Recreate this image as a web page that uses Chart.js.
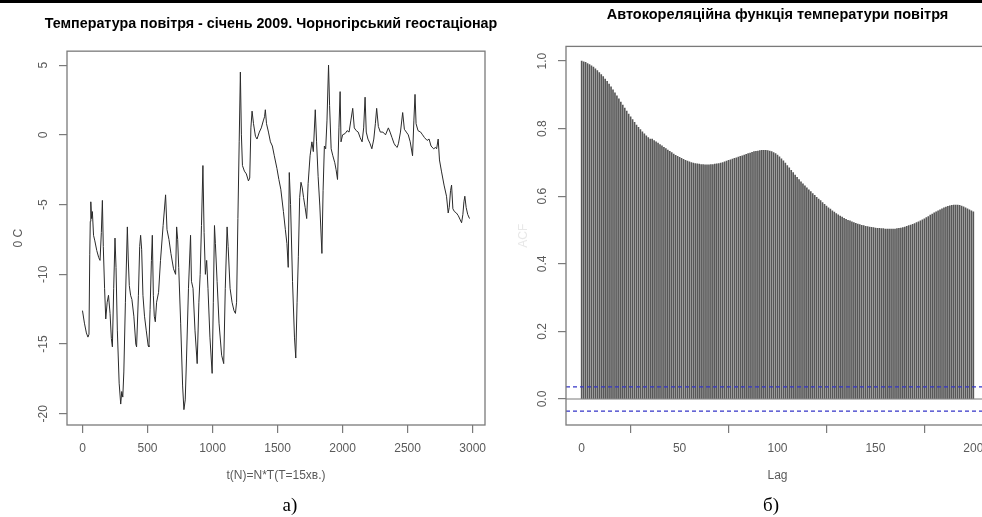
<!DOCTYPE html>
<html>
<head>
<meta charset="utf-8">
<script src="https://cdn.jsdelivr.net/npm/chart.js@4.4.0/dist/chart.umd.min.js"></script>
<style>
    html, body { margin: 0; padding: 0; background: #fff; overflow: hidden; }
    #page { position: relative; width: 982px; height: 517px; overflow: hidden; background: #fff; }
    #top-rule { position: absolute; left: 0; top: 0; width: 982px; height: 3px; background: #000; }
    #temp-chart { position: absolute; left: 0; top: 0; }
    #acf-chart { position: absolute; left: 500px; top: 0; }
    .caption {
        position: absolute; top: 494px; width: 40px; text-align: center;
        font-family: 'Liberation Serif', 'Times New Roman', serif; font-size: 19px; line-height: 22px; color: #000;
    }
</style>
</head>
<body>
<div id="page">
    <div id="top-rule"></div>
    <canvas id="acf-chart" width="500" height="517"></canvas>
    <canvas id="temp-chart" width="542" height="517"></canvas>
    <div class="caption" style="left: 270px;">а)</div>
    <div class="caption" style="left: 751px;">б)</div>
</div>
<script>
// Air temperature, January 2009 (N = sample number, T = 15 min)
const tempN = [
    0, 15, 30, 42, 50, 56, 60, 64, 70, 76, 85, 95, 110, 125, 135, 145, 153, 160, 170, 179,
    190, 200, 212, 222, 230, 240, 250, 258, 268, 282, 294, 302, 310, 318, 330, 345, 352, 360, 370, 380,
    395, 410, 416, 430, 440, 447, 455, 465, 477, 490, 505, 511, 520, 530, 537, 545, 552, 560, 570, 585,
    600, 620, 639, 650, 665, 680, 700, 716, 724, 732, 740, 755, 770, 780, 790, 800, 815, 831, 838, 850,
    865, 882, 895, 905, 915, 926, 935, 945, 955, 965, 980, 997, 1006, 1015, 1022, 1035, 1050, 1070, 1086, 1098,
    1112, 1120, 1135, 1150, 1165, 1176, 1185, 1195, 1205, 1214, 1222, 1230, 1245, 1260, 1276, 1286, 1295, 1304, 1315, 1330,
    1342, 1360, 1375, 1390, 1400, 1406, 1415, 1430, 1445, 1460, 1475, 1495, 1510, 1525, 1545, 1560, 1572, 1582, 1590, 1600,
    1615, 1630, 1640, 1650, 1660, 1670, 1680, 1690, 1700, 1712, 1724, 1735, 1750, 1764, 1775, 1790, 1800, 1812, 1825, 1841,
    1850, 1860, 1870, 1880, 1892, 1900, 1912, 1925, 1940, 1950, 1961, 1972, 1981, 1988, 2000, 2020, 2035, 2050, 2063, 2078,
    2090, 2105, 2120, 2135, 2150, 2162, 2173, 2182, 2195, 2210, 2225, 2240, 2252, 2262, 2275, 2290, 2310, 2330, 2352, 2365,
    2380, 2395, 2408, 2420, 2430, 2445, 2462, 2475, 2490, 2505, 2520, 2538, 2548, 2557, 2565, 2580, 2600, 2615, 2630, 2650,
    2665, 2680, 2700, 2715, 2723, 2735, 2745, 2760, 2780, 2799, 2812, 2820, 2830, 2838, 2848, 2860, 2875, 2890, 2905, 2915,
    2925, 2933, 2940, 2950, 2962, 2976
];
const tempC = [
    -12.6, -13.5, -14.2, -14.5, -14.3, -8.6, -6.2, -4.8, -6.0, -5.5, -7.2, -7.6, -8.3, -8.8, -9.0, -7.0, -4.7, -8.0, -11.0, -13.2,
    -12.0, -11.5, -12.8, -14.6, -15.2, -11.0, -7.4, -9.5, -14.0, -17.8, -19.3, -18.4, -18.8, -17.0, -12.0, -6.6, -8.9, -10.8, -11.5, -11.8,
    -13.0, -15.0, -15.2, -11.5, -8.0, -7.2, -8.2, -11.5, -13.0, -14.0, -15.1, -15.2, -12.5, -9.0, -7.2, -11.5, -13.0, -13.4, -12.0, -11.3,
    -9.0, -6.5, -4.3, -6.8, -7.5, -8.5, -9.6, -10.0, -6.6, -7.5, -9.5, -13.5, -18.0, -19.7, -19.0, -16.0, -11.0, -7.2, -10.5, -11.0,
    -14.0, -16.4, -12.0, -10.0, -6.5, -2.2, -7.0, -10.0, -9.0, -11.0, -14.5, -17.1, -12.0, -6.5, -7.8, -10.5, -13.5, -15.8, -16.4, -11.0,
    -6.6, -8.0, -11.0, -12.0, -12.6, -12.8, -12.0, -6.0, -0.5, 4.5, 0.0, -2.2, -2.6, -2.8, -3.3, -3.1, 0.5, 1.7, 0.8, -0.1,
    -0.3, 0.2, 0.5, 1.0, 1.3, 1.8, 0.8, 0.2, -0.5, -0.8, -1.5, -2.4, -3.2, -3.9, -5.5, -6.8, -7.8, -9.5, -2.7, -5.0,
    -10.5, -14.5, -16.0, -12.0, -8.7, -4.5, -3.4, -3.8, -4.5, -5.2, -6.0, -3.5, -1.5, -0.5, -1.2, 1.8, -0.5, -3.0, -5.1, -8.5,
    -4.0, -0.8, -1.0, 1.0, 5.0, 2.1, -1.0, -1.5, -2.0, -2.5, -3.2, 0.5, 3.1, -0.5, 0.0, 0.1, 0.3, 0.2, 1.0, 1.9,
    0.5, 0.3, 0.2, -0.2, -0.5, 0.5, 2.7, 0.2, -0.3, -0.6, -1.0, -0.3, 0.8, 1.9, 0.6, 0.2, 0.2, 0.0, 0.5, 0.2,
    -0.2, -0.6, -0.8, -0.9, -0.6, 0.2, 1.6, 0.4, 0.2, 0.0, -0.5, -1.5, 1.0, 2.9, 0.8, 0.3, 0.2, 0.0, -0.2, -0.4,
    -0.3, -0.8, -1.0, -0.9, -1.0, -0.3, -1.8, -2.6, -3.6, -4.4, -5.6, -5.2, -4.0, -3.6, -5.3, -5.5, -5.6, -5.8, -6.1, -6.3,
    -5.7, -4.8, -4.4, -5.2, -5.7, -6.0
];
const tempXTicks = [0, 500, 1000, 1500, 2000, 2500, 3000];
const tempYTicks = [-20, -15, -10, -5, 0, 5];

// Autocorrelation of air temperature, lag 0..200
const acfValues = [
    1.000, 0.998, 0.996, 0.993, 0.990, 0.986, 0.982, 0.977, 0.972, 0.966,
    0.960, 0.954, 0.947, 0.940, 0.932, 0.924, 0.915, 0.906, 0.897, 0.888,
    0.879, 0.870, 0.861, 0.852, 0.843, 0.835, 0.827, 0.819, 0.811, 0.804,
    0.797, 0.791, 0.785, 0.779, 0.774, 0.769, 0.769, 0.765, 0.761, 0.757,
    0.753, 0.749, 0.745, 0.741, 0.737, 0.733, 0.729, 0.725, 0.721, 0.718,
    0.715, 0.712, 0.709, 0.706, 0.704, 0.702, 0.700, 0.698, 0.697, 0.696,
    0.695, 0.694, 0.694, 0.693, 0.693, 0.693, 0.694, 0.694, 0.695, 0.696,
    0.697, 0.698, 0.700, 0.702, 0.704, 0.706, 0.708, 0.710, 0.712, 0.714,
    0.716, 0.718, 0.720, 0.722, 0.724, 0.726, 0.728, 0.730, 0.732, 0.733,
    0.734, 0.735, 0.736, 0.736, 0.736, 0.735, 0.734, 0.732, 0.729, 0.726,
    0.722, 0.717, 0.711, 0.705, 0.698, 0.691, 0.684, 0.677, 0.670, 0.663,
    0.656, 0.649, 0.643, 0.637, 0.631, 0.625, 0.619, 0.614, 0.608, 0.603,
    0.597, 0.592, 0.587, 0.581, 0.576, 0.571, 0.566, 0.562, 0.557, 0.553,
    0.549, 0.545, 0.541, 0.538, 0.535, 0.532, 0.529, 0.527, 0.524, 0.522,
    0.520, 0.518, 0.516, 0.514, 0.513, 0.511, 0.510, 0.509, 0.508, 0.507,
    0.506, 0.505, 0.505, 0.504, 0.504, 0.503, 0.503, 0.503, 0.503, 0.503,
    0.503, 0.504, 0.505, 0.506, 0.507, 0.509, 0.511, 0.513, 0.515, 0.517,
    0.519, 0.522, 0.524, 0.527, 0.530, 0.533, 0.537, 0.540, 0.544, 0.547,
    0.551, 0.554, 0.557, 0.560, 0.563, 0.566, 0.568, 0.570, 0.572, 0.573,
    0.574, 0.574, 0.574, 0.573, 0.571, 0.569, 0.566, 0.563, 0.560, 0.557,
    0.554
];
const acfZeroLine = [0];
const acfConfLimits = [0.036, -0.036];
const acfXTicks = [0, 50, 100, 150, 200];
const acfYTicks = [0, 0.2, 0.4, 0.6, 0.8, 1.0];

// Frame around the plotting region (R style box)
const boxPlugin = {
    id: 'plotBox',
    afterDraw(chart) {
        const { ctx, chartArea: a } = chart;
        ctx.save();
        ctx.strokeStyle = '#7a7a7a';
        ctx.lineWidth = 1.3;
        ctx.strokeRect(a.left, a.top, a.right - a.left, a.bottom - a.top);
        ctx.restore();
    }
};

// Horizontal reference lines (abline) drawn through the y scale
function drawHLines(chart, lines) {
    const { ctx, chartArea: a, scales: { y } } = chart;
    ctx.save();
    (lines || []).forEach(line => {
        line.values.forEach(v => {
            const py = y.getPixelForValue(v);
            ctx.strokeStyle = line.color;
            ctx.lineWidth = line.width;
            ctx.setLineDash(line.dash || []);
            ctx.beginPath();
            ctx.moveTo(a.left, py);
            ctx.lineTo(a.right, py);
            ctx.stroke();
        });
    });
    ctx.restore();
}

const refLinesPlugin = {
    id: 'refLines',
    beforeDatasetsDraw(chart, args, opts) { drawHLines(chart, opts.lines); },
    afterDatasetsDraw(chart, args, opts) { drawHLines(chart, opts.overLines); }
};

const ClimateCharts = {
    config: {
        font: "'Liberation Sans', Arial, sans-serif",
        axisColor: '#7a7a7a',
        labelColor: '#5a5a5a',
        lineColor: '#2a2a2a',
        barColor: '#575757',
        confColor: '#3535c8'
    },

    init() {
        Chart.defaults.font.family = this.config.font;
        this.initTemperatureChart();
        this.initAcfChart();
    },

    // shared R-like axis settings
    axis(ticks, fmt, title, vertical) {
        const c = this.config;
        return {
            type: 'linear',
            afterBuildTicks: s => { s.ticks = ticks.map(v => ({ value: v })); },
            border: { display: false },
            grid: { drawOnChartArea: false, drawTicks: true, tickLength: 8, tickColor: c.axisColor, lineWidth: 1.2 },
            ticks: vertical
                ? { color: c.labelColor, font: { size: 12 }, minRotation: 90, maxRotation: 90, crossAlign: 'center', padding: 7, callback: fmt }
                : { color: c.labelColor, font: { size: 12 }, maxRotation: 0, padding: 8, callback: fmt },
            title: {
                display: true, text: title.text, color: title.color || c.labelColor,
                font: { size: 12 }, padding: title.padding
            }
        };
    },

    // Temperature time series
    initTemperatureChart() {
        const c = this.config;
        const xAxis = this.axis(tempXTicks, v => String(v), { text: 't(N)=N*T(T=15хв.)', padding: { top: 0, bottom: 0 } }, false);
        xAxis.min = -119; xAxis.max = 3095;
        xAxis.afterFit = s => { s.height = 58; };
        const yAxis = this.axis(tempYTicks, v => String(v), { text: '0 C', padding: { top: 11, bottom: 0 } }, true);
        yAxis.min = -20.8; yAxis.max = 6.0;
        yAxis.afterFit = s => { s.width = 67; };
        // empty right margin so the full-width title centres like R's main title
        const marginAxis = {
            position: 'right',
            afterFit: s => { s.width = 57; },
            ticks: { display: false },
            grid: { display: false },
            border: { display: false }
        };

        const ctx = document.getElementById('temp-chart').getContext('2d');
        new Chart(ctx, {
            type: 'line',
            data: {
                datasets: [{
                    data: tempN.map((n, i) => ({ x: n, y: tempC[i] })),
                    borderColor: c.lineColor,
                    borderWidth: 1,
                    pointRadius: 0,
                    tension: 0,
                    fill: false
                }]
            },
            options: {
                responsive: false,
                animation: false,
                layout: { padding: { left: 0, right: 0, top: 0, bottom: 34 } },
                plugins: {
                    legend: { display: false },
                    tooltip: { enabled: false },
                    title: {
                        display: true,
                        text: 'Температура повітря - січень 2009. Чорногірський геостаціонар',
                        color: '#000',
                        font: { size: 14.3, weight: 'bold' },
                        padding: { top: 15, bottom: 19 }
                    }
                },
                scales: { x: xAxis, y: yAxis, margin: marginAxis }
            },
            plugins: [boxPlugin]
        });
    },

    // Autocorrelation function
    initAcfChart() {
        const c = this.config;
        const xAxis = this.axis(acfXTicks, v => String(v), { text: 'Lag', padding: { top: 0, bottom: 0 } }, false);
        xAxis.min = -8; xAxis.max = 208; xAxis.offset = false;
        xAxis.afterFit = s => { s.height = 58; };
        const yAxis = this.axis(acfYTicks, v => v.toFixed(1), { text: 'ACF', color: '#e8e8e8', padding: { top: 16, bottom: 0 } }, true);
        yAxis.min = -0.077; yAxis.max = 1.0435;
        yAxis.afterFit = s => { s.width = 66; };

        const ctx = document.getElementById('acf-chart').getContext('2d');
        new Chart(ctx, {
            type: 'bar',
            data: {
                datasets: [{
                    data: acfValues.map((v, lag) => ({ x: lag, y: v })),
                    backgroundColor: c.barColor,
                    barThickness: 1,
                    borderWidth: 0
                }]
            },
            options: {
                responsive: false,
                animation: false,
                layout: { padding: { left: 0, right: 11, top: 0, bottom: 34 } },
                plugins: {
                    legend: { display: false },
                    tooltip: { enabled: false },
                    title: {
                        display: true,
                        text: 'Автокореляційна функція температури повітря',
                        fullSize: false,
                        color: '#000',
                        font: { size: 14.5, weight: 'bold' },
                        padding: { top: 6, bottom: 23 }
                    },
                    refLines: {
                        lines: [{ values: acfZeroLine, color: '#7a7a7a', width: 1.2 }],
                        overLines: [{ values: acfConfLimits, color: c.confColor, width: 1.2, dash: [4, 3] }]
                    }
                },
                scales: { x: xAxis, y: yAxis }
            },
            plugins: [boxPlugin, refLinesPlugin]
        });
    }
};

document.addEventListener('DOMContentLoaded', () => {
    ClimateCharts.init();
});
</script>
</body>
</html>
